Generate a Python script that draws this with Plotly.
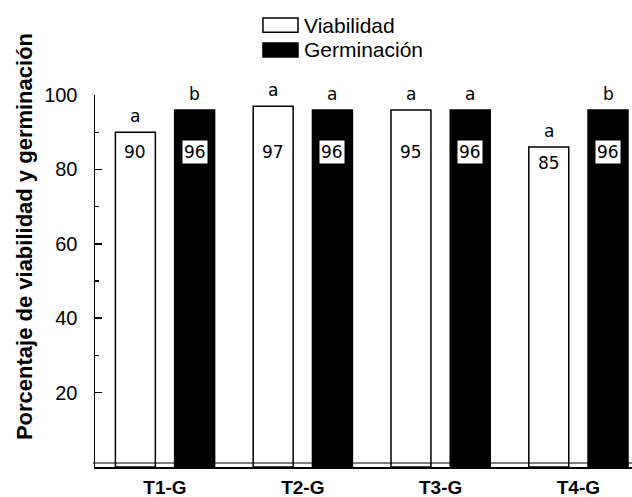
import plotly.graph_objects as go

# ---- data ----
categories = ["T1-G", "T2-G", "T3-G", "T4-G"]
series_names = ["Viabilidad", "Germinación"]
viabilidad = [90, 97, 96, 86]          # drawn bar heights
germinacion = [96, 96, 96, 96]
viabilidad_labels = ["90", "97", "95", "85"]   # printed values
germinacion_labels = ["96", "96", "96", "96"]
viabilidad_letters = ["a", "a", "a", "a"]
germinacion_letters = ["b", "a", "a", "b"]
y_ticks = [20, 40, 60, 80, 100]
y_minor_ticks = [30, 50, 70, 90]
y_title = "Porcentaje de viabilidad y germinación"

# ---- layout constants ----
W = 0.29
OFFS = [-0.36, 0.07]
AX = "Liberation Sans, Arial, sans-serif"
LBL = "DejaVu Sans, Verdana, sans-serif"

x = list(range(len(categories)))

fig = go.Figure()
fig.add_trace(go.Bar(
    x=x, y=viabilidad, name=series_names[0], width=W, offset=OFFS[0],
    marker=dict(color="white", line=dict(color="black", width=1.5)),
    showlegend=False, cliponaxis=False, hoverinfo="skip",
))
fig.add_trace(go.Bar(
    x=x, y=germinacion, name=series_names[1], width=W, offset=OFFS[1],
    marker=dict(color="black", line=dict(color="black", width=1.5)),
    showlegend=False, cliponaxis=False, hoverinfo="skip",
))

annotations = []
for k, (vals, labels, letters) in enumerate([
    (viabilidad, viabilidad_labels, viabilidad_letters),
    (germinacion, germinacion_labels, germinacion_letters),
]):
    for i, (v, lab, let) in enumerate(zip(vals, labels, letters)):
        xc = i + OFFS[k] + W / 2
        annotations.append(dict(
            x=xc, y=v, xref="x", yref="y", text=let, showarrow=False,
            yanchor="bottom", yshift=4,
            font=dict(family=LBL, size=17, color="black"),
        ))
        annotations.append(dict(
            x=xc, y=min(v, 89), xref="x", yref="y", text=lab, showarrow=False,
            yanchor="top", yshift=-4,
            font=dict(family=LBL, size=17, color="black"),
            bgcolor="white" if k == 1 else None, borderpad=1,
        ))

# y-axis title
annotations.append(dict(
    x=-0.1322, y=0.618, xref="paper", yref="paper", text=y_title,
    textangle=-90, showarrow=False, xanchor="center", yanchor="middle",
    font=dict(family=AX, size=22, color="black", weight="bold"),
))

# custom legend (wide swatches as in the reference)
leg_x0, leg_x1 = 0.3128, 0.378
shapes = [
    dict(type="rect", xref="paper", yref="paper", x0=leg_x0, x1=leg_x1,
         y0=1.169, y1=1.207, fillcolor="white", line=dict(color="black", width=1.5)),
    dict(type="rect", xref="paper", yref="paper", x0=leg_x0, x1=leg_x1,
         y0=1.102, y1=1.140, fillcolor="black", line=dict(color="black", width=1.5)),
    # second (double) baseline
    dict(type="line", xref="paper", yref="y", ysizemode="pixel", yanchor=0,
         x0=-0.004, x1=1, y0=4, y1=4, line=dict(color="black", width=1.2)),
]
for name, yy in zip(series_names, [1.188, 1.121]):
    annotations.append(dict(
        x=0.3855, y=yy, xref="paper", yref="paper", text=name, showarrow=False,
        xanchor="left", yanchor="middle",
        font=dict(family=AX, size=21, color="black"),
    ))

fig.update_layout(
    width=632, height=497,
    margin=dict(l=95, r=0, t=95, b=30, autoexpand=False),
    paper_bgcolor="white", plot_bgcolor="white",
    barmode="overlay", hovermode=False,
    annotations=annotations, shapes=shapes,
    showlegend=False,
)
fig.update_xaxes(
    range=[-0.508, 3.389], tickvals=x, ticktext=categories,
    showline=True, linecolor="black", linewidth=1.5,
    ticks="", showgrid=False, zeroline=False, automargin=False,
    tickfont=dict(family=AX, size=19, color="black", weight="bold"),
    ticklabelstandoff=3,
)
fig.update_yaxes(
    range=[0, 100], tickvals=y_ticks, automargin=False,
    showline=True, linecolor="black", linewidth=1.5,
    ticks="inside", ticklen=7, tickwidth=1.5, tickcolor="black",
    minor=dict(tickvals=y_minor_ticks, ticks="inside", ticklen=4,
               tickwidth=1.2, tickcolor="black"),
    showgrid=False, zeroline=False,
    tickfont=dict(family=AX, size=20, color="black"),
    ticklabelstandoff=12,
)

fig.write_html(
    "out.html",
    config={"displayModeBar": False, "staticPlot": True},
    post_script="document.body.style.margin='0px';document.body.style.overflow='hidden';",
)
